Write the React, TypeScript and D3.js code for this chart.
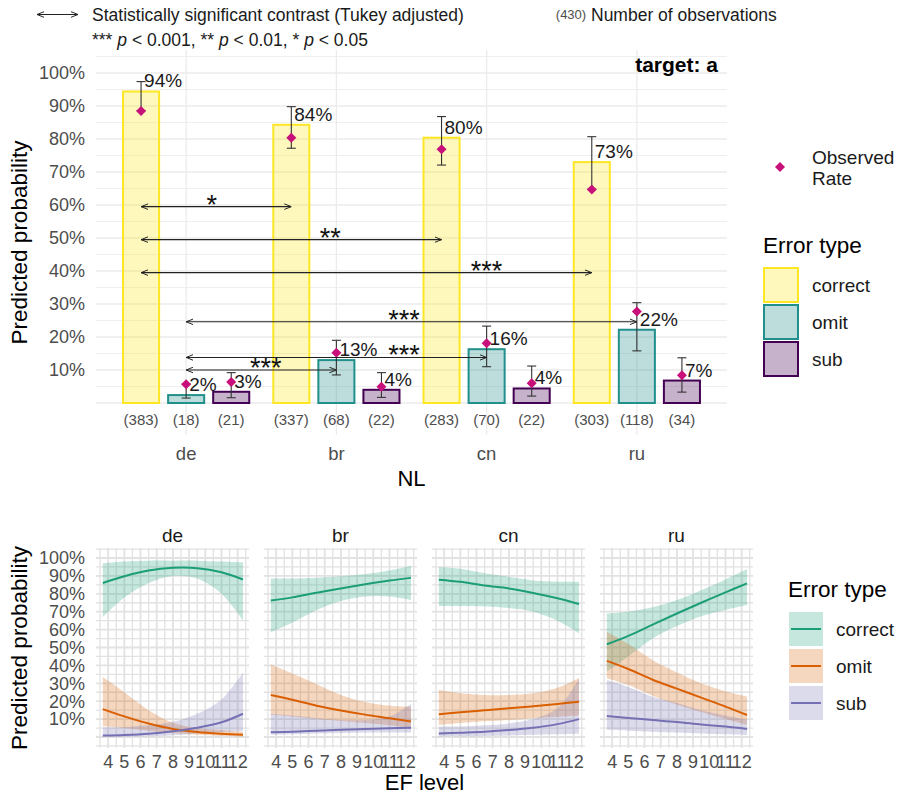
import React from "react";
import * as d3 from "d3";

// ---------- Top panel data ----------
const nlLevels = ["de", "br", "cn", "ru"];
const errorTypes = ["correct", "omit", "sub"];

const predCorrect = [0.944, 0.843, 0.804, 0.73];
const predOmit = [0.024, 0.13, 0.163, 0.222];
const predSub = [0.034, 0.04, 0.044, 0.068];

const ciLowCorrect = [0.886, 0.772, 0.721, 0.648];
const ciHighCorrect = [0.974, 0.898, 0.868, 0.807];
const ciLowOmit = [0.015, 0.085, 0.11, 0.158];
const ciHighOmit = [0.058, 0.19, 0.233, 0.304];
const ciLowSub = [0.016, 0.017, 0.021, 0.033];
const ciHighSub = [0.092, 0.092, 0.112, 0.137];

const obsCorrect = [0.885, 0.804, 0.769, 0.647];
const obsOmit = [0.057, 0.152, 0.181, 0.277];
const obsSub = [0.064, 0.049, 0.06, 0.084];

const nCorrect = [383, 337, 283, 303];
const nOmit = [18, 68, 70, 118];
const nSub = [21, 22, 22, 34];

// significance contrasts
const contrastFrom = ["de", "de", "de", "de", "de", "de"];
const contrastTo = ["br", "cn", "ru", "ru", "cn", "br"];
const contrastType = ["correct", "correct", "correct", "omit", "omit", "omit"];
const contrastY = [0.595, 0.495, 0.395, 0.246, 0.138, 0.1];
const contrastStars = ["*", "**", "***", "***", "***", "***"];
const contrastLabelX = [1.17, 1.96, 3.0, 2.45, 2.45, 1.53];

const yBreaksTop = [0.1, 0.2, 0.3, 0.4, 0.5, 0.6, 0.7, 0.8, 0.9, 1.0];

// ---------- Bottom panel data (percent) ----------
const efLevels = [3.67, 5, 6.5, 8, 9.5, 11, 12.33];
const efTicks = [4, 5, 6, 7, 8, 9, 10, 11, 12];

const deCorrectFit = [86, 89.8, 93, 94.5, 94.3, 92, 88];
const deCorrectLow = [67, 78, 86, 90, 88.5, 80, 65];
const deCorrectHigh = [97, 98, 98.5, 98.5, 98.5, 98, 97.5];
const deOmitFit = [15.6, 11.5, 7.5, 4.5, 2.8, 1.8, 1.2];
const deOmitLow = [6, 5, 3.5, 2.2, 1.2, 0.6, 0.3];
const deOmitHigh = [33.5, 25, 15, 8, 5, 3.8, 3];
const deSubFit = [0.8, 1.1, 1.8, 3.2, 5.2, 8.2, 13];
const deSubLow = [0.1, 0.2, 0.4, 1, 2, 2.8, 3.5];
const deSubHigh = [5.5, 5.5, 6.5, 8.5, 13, 21, 36];

const brCorrectFit = [76.2, 78, 80.6, 83, 85.3, 87.4, 88.9];
const brCorrectLow = [58.5, 64, 71, 76, 78.5, 78.5, 76.5];
const brCorrectHigh = [88.6, 88.6, 89, 89.8, 91, 93, 95.7];
const brOmitFit = [23.5, 20.8, 17.5, 14.8, 12.5, 10.5, 8.6];
const brOmitLow = [12.5, 11.5, 10, 9, 7.8, 6.5, 5];
const brOmitHigh = [40.5, 35.5, 29.5, 23.5, 19.5, 17.5, 17];
const brSubFit = [2.6, 3, 3.5, 4, 4.5, 4.9, 5.2];
const brSubLow = [1.2, 1.5, 2, 2.3, 2.5, 2.5, 2.5];
const brSubHigh = [13, 12, 10.5, 9.5, 9.5, 11.5, 18.5];

const cnCorrectFit = [87.9, 86.7, 84.6, 83, 80.5, 77.5, 74.3];
const cnCorrectLow = [73.2, 73.2, 73, 72, 70, 65, 58];
const cnCorrectHigh = [95, 94, 91.5, 89.5, 87.5, 86.8, 86.8];
const cnOmitFit = [12.7, 13.8, 14.9, 16, 17.2, 18.5, 19.7];
const cnOmitLow = [6.7, 7.8, 8.8, 9.5, 10.5, 11.3, 12];
const cnOmitHigh = [26.2, 24.5, 23.5, 23.5, 24.5, 27.5, 33];
const cnSubFit = [1.9, 2.4, 3.0, 3.9, 5.2, 7.2, 10];
const cnSubLow = [0.3, 0.4, 0.6, 0.9, 1.2, 1.5, 1.8];
const cnSubHigh = [5.8, 5.8, 6.5, 7.6, 10, 16, 32.6];

const ruCorrectFit = [51.8, 56.5, 62.8, 69, 75, 80.8, 85.8];
const ruCorrectLow = [36.5, 45, 55, 62, 67.5, 71, 73.7];
const ruCorrectHigh = [69, 70, 72.5, 76.5, 82, 88, 93.8];
const ruOmitFit = [42.5, 38, 32, 27, 22, 17, 12.3];
const ruOmitLow = [32.8, 29, 23, 18, 14, 10, 6.7];
const ruOmitHigh = [58.8, 52, 43, 36, 30, 25.5, 22.6];
const ruSubFit = [11.7, 10.6, 9.5, 8.4, 7, 5.8, 4.5];
const ruSubLow = [4, 3.5, 3, 2.5, 2, 1.5, 1.1];
const ruSubHigh = [31.9, 28, 22.5, 19, 15, 12, 9.5];

const FONT = "'Liberation Sans', Arial, Helvetica, sans-serif";
const barStroke: Record<string, string> = { correct: "#FDE725", omit: "#21908C", sub: "#440154" };
const lineColor: Record<string, string> = { correct: "#1B9E77", omit: "#D95F02", sub: "#7570B3" };
const DIAMOND = "#C8107A";
const GRID = "#ebebeb";
const AXIS_TEXT = "#4d4d4d";

export default function App() {
  // ----- top panel scales -----
  const tp = { top: 50, bottom: 435, left: 96, right: 727 };
  const xTop = d3.scaleLinear().domain([0.4, 4.6]).range([tp.left, tp.right]);
  const yTop = d3.scaleLinear().domain([0, 1]).range([403, 73]);
  const dodge: Record<string, number> = { correct: -0.3, omit: 0, sub: 0.3 };
  const barHalf = 0.12;

  const preds: Record<string, number[]> = { correct: predCorrect, omit: predOmit, sub: predSub };
  const lows: Record<string, number[]> = { correct: ciLowCorrect, omit: ciLowOmit, sub: ciLowSub };
  const highs: Record<string, number[]> = { correct: ciHighCorrect, omit: ciHighOmit, sub: ciHighSub };
  const obs: Record<string, number[]> = { correct: obsCorrect, omit: obsOmit, sub: obsSub };
  const counts: Record<string, number[]> = { correct: nCorrect, omit: nOmit, sub: nSub };

  const bars = errorTypes.flatMap((t) =>
    nlLevels.map((nl, i) => ({
      type: t,
      nl,
      xc: i + 1 + dodge[t],
      pred: preds[t][i],
      lo: lows[t][i],
      hi: highs[t][i],
      obs: obs[t][i],
      n: counts[t][i],
    }))
  );

  const pct = d3.format(".0%");
  const gridYTop = d3.range(0, 1.0501, 0.05);

  const diamond = (cx: number, cy: number, r: number) =>
    `M${cx},${cy - r}L${cx + r},${cy}L${cx},${cy + r}L${cx - r},${cy}Z`;

  // ----- bottom panel scales -----
  const bp = { top: 548, bottom: 748, width: 153, step: 168, left0: 96 };
  const xEF = d3.scaleLinear().domain([3.25, 12.7]).range([0, bp.width]);
  const yB = d3.scaleLinear().domain([0, 1]).range([737, 558]);

  const facetSeries: Record<string, Record<string, { fit: number[]; lo: number[]; hi: number[] }>> = {
    de: {
      correct: { fit: deCorrectFit, lo: deCorrectLow, hi: deCorrectHigh },
      omit: { fit: deOmitFit, lo: deOmitLow, hi: deOmitHigh },
      sub: { fit: deSubFit, lo: deSubLow, hi: deSubHigh },
    },
    br: {
      correct: { fit: brCorrectFit, lo: brCorrectLow, hi: brCorrectHigh },
      omit: { fit: brOmitFit, lo: brOmitLow, hi: brOmitHigh },
      sub: { fit: brSubFit, lo: brSubLow, hi: brSubHigh },
    },
    cn: {
      correct: { fit: cnCorrectFit, lo: cnCorrectLow, hi: cnCorrectHigh },
      omit: { fit: cnOmitFit, lo: cnOmitLow, hi: cnOmitHigh },
      sub: { fit: cnSubFit, lo: cnSubLow, hi: cnSubHigh },
    },
    ru: {
      correct: { fit: ruCorrectFit, lo: ruCorrectLow, hi: ruCorrectHigh },
      omit: { fit: ruOmitFit, lo: ruOmitLow, hi: ruOmitHigh },
      sub: { fit: ruSubFit, lo: ruSubLow, hi: ruSubHigh },
    },
  };

  const gridYB = d3.range(-0.05, 1.0501, 0.05);
  const gridXB = d3.range(3.5, 12.501, 0.5);
  const smooth = d3.curveCatmullRom.alpha(0.5);

  const lineGen = d3
    .line<number>()
    .x((_, i) => xEF(efLevels[i]))
    .y((d) => yB(d / 100))
    .curve(smooth);

  const areaGen = (lo: number[], hi: number[]) =>
    d3
      .area<number>()
      .x((_, i) => xEF(efLevels[i]))
      .y0((_, i) => yB(lo[i] / 100))
      .y1((_, i) => yB(hi[i] / 100))
      .curve(smooth)(lo);

  const nlIndex = (nl: string) => nlLevels.indexOf(nl) + 1;

  return (
    <svg
      width={901}
      height={797}
      style={{ position: "absolute", left: 0, top: 0, background: "#fff" }}
      fontFamily={FONT}
    >
      <defs>
        <marker
          id="arr"
          viewBox="0 0 10 10"
          refX="10"
          refY="5"
          markerWidth="7"
          markerHeight="7"
          markerUnits="userSpaceOnUse"
          orient="auto-start-reverse"
        >
          <path d="M0,1 L10,5 L0,9" fill="none" stroke="#222" strokeWidth={1.4} />
        </marker>
      </defs>
      <rect x={0} y={0} width={901} height={797} fill="#fff" />

      {/* ---------- Header ---------- */}
      <line x1={37} x2={78} y1={14.5} y2={14.5} stroke="#222" strokeWidth={1.1}
        markerStart="url(#arr)" markerEnd="url(#arr)" />
      <text x={92} y={14.5} dy="0.35em" fontSize={17.5} fill="#1a1a1a">
        Statistically significant contrast (Tukey adjusted)
      </text>
      <text x={92} y={40} dy="0.35em" fontSize={17.5} fill="#1a1a1a">
        <tspan>*** </tspan>
        <tspan fontStyle="italic">p</tspan>
        <tspan>{" < 0.001, ** "}</tspan>
        <tspan fontStyle="italic">p</tspan>
        <tspan>{" < 0.01, * "}</tspan>
        <tspan fontStyle="italic">p</tspan>
        <tspan>{" < 0.05"}</tspan>
      </text>
      <text x={571} y={14.5} dy="0.35em" fontSize={13} fill={AXIS_TEXT} textAnchor="middle">
        (430)
      </text>
      <text x={591} y={14.5} dy="0.35em" fontSize={17.5} fill="#1a1a1a">
        Number of observations
      </text>

      {/* ---------- Top panel ---------- */}
      <g>
        {gridYTop.map((v, i) => (
          <line key={"gy" + i} x1={tp.left} x2={tp.right} y1={yTop(v)} y2={yTop(v)}
            stroke={GRID} strokeWidth={i % 2 === 0 ? 1.3 : 0.8} />
        ))}
        {nlLevels.map((nl, i) => (
          <line key={"gx" + nl} x1={xTop(i + 1)} x2={xTop(i + 1)} y1={tp.top} y2={tp.bottom}
            stroke={GRID} strokeWidth={1.3} />
        ))}

        {bars.map((b, k) => (
          <rect key={"bar" + k}
            x={xTop(b.xc - barHalf)} width={xTop(b.xc + barHalf) - xTop(b.xc - barHalf)}
            y={yTop(b.pred)} height={yTop(0) - yTop(b.pred)}
            fill={barStroke[b.type]} fillOpacity={0.3}
            stroke={barStroke[b.type]} strokeWidth={2} />
        ))}

        {bars.map((b, k) => {
          const cx = xTop(b.xc);
          return (
            <g key={"eb" + k} stroke="#333" strokeWidth={1.1}>
              <line x1={cx} x2={cx} y1={yTop(b.lo)} y2={yTop(b.hi)} />
              <line x1={cx - 4.5} x2={cx + 4.5} y1={yTop(b.lo)} y2={yTop(b.lo)} />
              <line x1={cx - 4.5} x2={cx + 4.5} y1={yTop(b.hi)} y2={yTop(b.hi)} />
            </g>
          );
        })}

        {bars.map((b, k) => (
          <path key={"dm" + k} d={diamond(xTop(b.xc), yTop(b.obs), 5)} fill={DIAMOND} />
        ))}

        {bars.map((b, k) => (
          <text key={"lbl" + k} x={xTop(b.xc) + 3} y={yTop(b.pred) - 4} fontSize={19} fill="#1a1a1a">
            {pct(b.pred)}
          </text>
        ))}

        {contrastFrom.map((f, k) => {
          const x1 = xTop(nlIndex(f) + dodge[contrastType[k]]);
          const x2 = xTop(nlIndex(contrastTo[k]) + dodge[contrastType[k]]);
          const y = yTop(contrastY[k]);
          return (
            <g key={"ct" + k}>
              <line x1={x1} x2={x2} y1={y} y2={y} stroke="#222" strokeWidth={1.1}
                markerStart="url(#arr)" markerEnd="url(#arr)" />
              <text x={xTop(contrastLabelX[k])} y={y + 7} fontSize={27} textAnchor="middle" fill="#111">
                {contrastStars[k]}
              </text>
            </g>
          );
        })}

        {bars.map((b, k) => (
          <text key={"n" + k} x={xTop(b.xc)} y={yTop(-0.05)} dy="0.35em" fontSize={15}
            textAnchor="middle" fill={AXIS_TEXT}>
            ({b.n})
          </text>
        ))}

        <text x={718} y={65} dy="0.35em" fontSize={21} fontWeight="bold" textAnchor="end" fill="#000">
          target: a
        </text>

        {yBreaksTop.map((v) => (
          <text key={"yt" + v} x={85} y={yTop(v)} dy="0.35em" fontSize={18} textAnchor="end" fill={AXIS_TEXT}>
            {pct(v)}
          </text>
        ))}
        {nlLevels.map((nl, i) => (
          <text key={"xl" + nl} x={xTop(i + 1)} y={454} dy="0.35em" fontSize={18.5}
            textAnchor="middle" fill={AXIS_TEXT}>
            {nl}
          </text>
        ))}
        <text x={(tp.left + tp.right) / 2} y={478} dy="0.35em" fontSize={22} textAnchor="middle" fill="#000">
          NL
        </text>
        <text transform={`translate(27,${(tp.top + tp.bottom) / 2}) rotate(-90)`} fontSize={22.5}
          textAnchor="middle" fill="#000">
          Predicted probability
        </text>

        {/* legend */}
        <path d={diamond(780, 167, 5)} fill={DIAMOND} />
        <text x={812} y={157} dy="0.35em" fontSize={19} fill="#1a1a1a">Observed</text>
        <text x={812} y={178} dy="0.35em" fontSize={19} fill="#1a1a1a">Rate</text>
        <text x={763} y={245} dy="0.35em" fontSize={22.5} fill="#000">Error type</text>
        {errorTypes.map((t, i) => (
          <g key={"lg" + t}>
            <rect x={764} y={268 + i * 37} width={34} height={34} fill={barStroke[t]} fillOpacity={0.3}
              stroke={barStroke[t]} strokeWidth={2} />
            <text x={812} y={285 + i * 37} dy="0.35em" fontSize={19} fill="#1a1a1a">{t}</text>
          </g>
        ))}
      </g>

      {/* ---------- Bottom panels ---------- */}
      {nlLevels.map((nl, fi) => {
        const left = bp.left0 + fi * bp.step;
        return (
          <g key={"facet" + nl} transform={`translate(${left},0)`}>
            {gridYB.map((v, i) => (
              <line key={"by" + i} x1={0} x2={bp.width} y1={yB(v)} y2={yB(v)}
                stroke="#e2e2e2" strokeWidth={i % 2 === 1 ? 1.8 : 1.3} />
            ))}
            {gridXB.map((v, i) => (
              <line key={"bx" + i} x1={xEF(v)} x2={xEF(v)} y1={bp.top} y2={bp.bottom}
                stroke="#e2e2e2" strokeWidth={i % 2 === 1 ? 1.8 : 1.3} />
            ))}
            {errorTypes.map((t) => (
              <path key={"rb" + t} d={areaGen(facetSeries[nl][t].lo, facetSeries[nl][t].hi) || ""}
                fill={lineColor[t]} fillOpacity={0.25} />
            ))}
            {errorTypes.map((t) => (
              <path key={"ln" + t} d={lineGen(facetSeries[nl][t].fit) || ""} fill="none"
                stroke={lineColor[t]} strokeWidth={2} />
            ))}
            <text x={bp.width / 2} y={535} dy="0.35em" fontSize={19} textAnchor="middle" fill="#1a1a1a">
              {nl}
            </text>
            {efTicks.map((v) => (
              <text key={"et" + v} x={xEF(v)} y={762} dy="0.35em" fontSize={18} textAnchor="middle"
                fill={AXIS_TEXT}>
                {v}
              </text>
            ))}
          </g>
        );
      })}
      {yBreaksTop.map((v) => (
        <text key={"byt" + v} x={85} y={yB(v)} dy="0.35em" fontSize={18} textAnchor="end" fill={AXIS_TEXT}>
          {pct(v)}
        </text>
      ))}
      <text x={424.5} y={782} dy="0.35em" fontSize={22} textAnchor="middle" fill="#000">EF level</text>
      <text transform={`translate(27,${(bp.top + bp.bottom) / 2}) rotate(-90)`} fontSize={22.5}
        textAnchor="middle" fill="#000">
        Predicted probability
      </text>

      {/* bottom legend */}
      <text x={788} y={589} dy="0.35em" fontSize={22.5} fill="#000">Error type</text>
      {errorTypes.map((t, i) => (
        <g key={"blg" + t}>
          <rect x={789} y={612 + i * 37} width={34} height={34} fill={lineColor[t]} fillOpacity={0.25} />
          <line x1={791} x2={821} y1={629 + i * 37} y2={629 + i * 37} stroke={lineColor[t]} strokeWidth={2} />
          <text x={836} y={629 + i * 37} dy="0.35em" fontSize={19} fill="#1a1a1a">{t}</text>
        </g>
      ))}
    </svg>
  );
}
